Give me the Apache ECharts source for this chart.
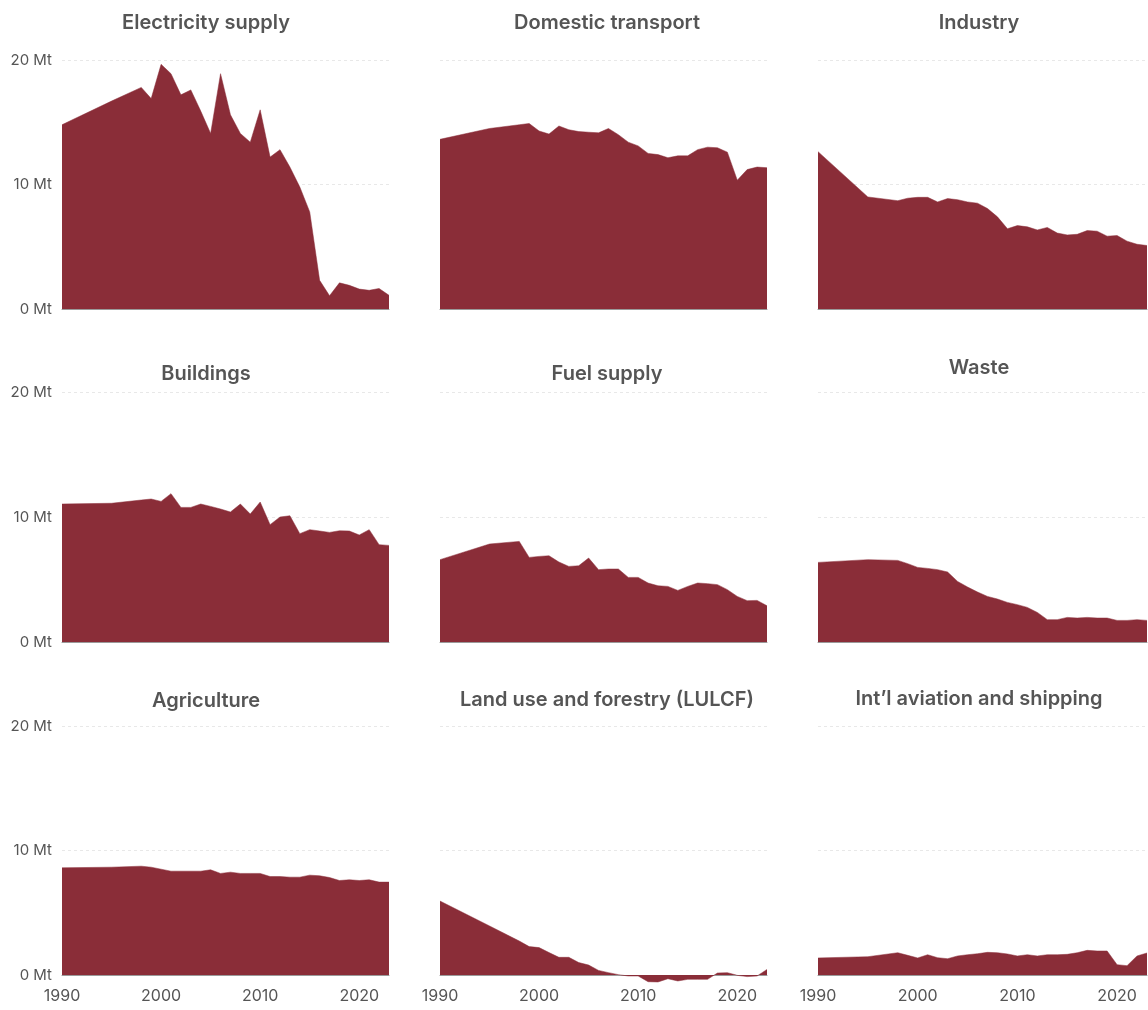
<!DOCTYPE html>
<html>
<head>
<meta charset="utf-8">
<script src="https://cdn.jsdelivr.net/npm/echarts@6/dist/echarts.min.js"></script>
<style>
html,body{margin:0;padding:0;background:#fff;}
#chart{width:1148px;height:1010px;}
</style>
</head>
<body>
<div id="chart"></div>
<script>
const years = [1990,1991,1992,1993,1994,1995,1996,1997,1998,1999,2000,2001,2002,2003,2004,2005,2006,2007,2008,2009,2010,2011,2012,2013,2014,2015,2016,2017,2018,2019,2020,2021,2022,2023];
const N = null;
const sectors = ["Electricity supply","Domestic transport","Industry","Buildings","Fuel supply","Waste","Agriculture","Land use and forestry (LULCF)","Int\u2019l aviation and shipping"];
const electricity = [14.8,N,N,N,N,16.7,N,N,17.8,16.9,19.65,18.9,17.2,17.6,15.9,14.1,18.9,15.6,14.1,13.4,16.0,12.2,12.8,11.4,9.8,7.8,2.3,1.07,2.1,1.9,1.6,1.5,1.65,1.1];
const transport = [13.63,N,N,N,N,14.5,N,N,14.8,14.9,14.3,14.05,14.7,14.4,14.25,14.2,14.15,14.5,14.0,13.4,13.1,12.5,12.4,12.15,12.3,12.3,12.8,13.0,12.95,12.6,10.35,11.2,11.4,11.35];
const industry = [12.64,N,N,N,N,9.0,N,N,8.7,8.9,8.97,8.97,8.6,8.87,8.78,8.6,8.5,8.07,7.4,6.45,6.7,6.6,6.35,6.55,6.1,5.95,6.0,6.3,6.25,5.85,5.9,5.45,5.2,5.1];
const buildings = [11.04,N,N,N,N,11.1,N,N,11.36,11.44,11.25,11.87,10.77,10.77,11.04,10.85,10.64,10.4,11.04,10.24,11.2,9.39,10.0,10.1,8.67,8.99,8.88,8.77,8.9,8.88,8.56,8.99,7.79,7.73];
const fuel = [6.59,N,N,N,N,7.84,N,N,8.05,6.77,6.85,6.9,6.4,6.05,6.1,6.72,5.79,5.84,5.84,5.17,5.17,4.72,4.5,4.45,4.13,4.45,4.72,4.67,4.59,4.19,3.65,3.31,3.33,2.9];
const waste = [6.37,N,N,N,N,6.59,N,N,6.53,6.27,5.97,5.89,5.79,5.6,4.85,4.4,4.0,3.65,3.44,3.17,2.99,2.77,2.37,1.79,1.79,1.97,1.92,1.97,1.92,1.92,1.73,1.73,1.79,1.73];
const agriculture = [8.61,N,N,N,N,8.66,N,N,8.74,8.66,8.5,8.34,8.34,8.34,8.34,8.45,8.16,8.26,8.16,8.16,8.16,7.91,7.91,7.86,7.86,8.02,7.97,7.83,7.59,7.65,7.59,7.65,7.46,7.46];
const lulucf = [5.94,N,N,N,N,3.94,N,N,2.73,2.28,2.2,1.8,1.42,1.42,1.0,0.8,0.37,0.19,0.03,-0.08,-0.08,-0.54,-0.56,-0.3,-0.48,-0.35,-0.35,-0.35,0.16,0.19,-0.03,-0.13,-0.08,0.45];
const aviation = [1.37,N,N,N,N,1.47,N,N,1.79,1.58,1.37,1.63,1.39,1.31,1.53,1.63,1.71,1.82,1.79,1.69,1.53,1.63,1.53,1.63,1.63,1.66,1.79,1.98,1.93,1.93,0.83,0.75,1.53,1.77];
const seriesValues = [electricity,transport,industry,buildings,fuel,waste,agriculture,lulucf,aviation];
const yTicks = [0,10,20];
const xTicks = [1990,2000,2010,2020];

const colLeft = [62, 440, 818];
const colWidth = [327, 327, 329];
const rowTop = [60, 392, 726];
const rowHeight = [249, 250, 249];
const titleX = [206, 607, 979];
const titleY = [[21,21,21],[372,372,366],[699,698,697]];
const fillColor = '#8A2D38';
const textColor = '#555555';
const font = 'Inter, "Noto Sans", sans-serif';

const grids = [], xAxes = [], yAxes = [], series = [], titles = [];
for (let i = 0; i < 9; i++) {
  const r = Math.floor(i / 3), c = i % 3;
  grids.push({left: colLeft[c], top: rowTop[r], width: colWidth[c], height: rowHeight[r], containLabel: false});
  xAxes.push({
    type: 'value', gridIndex: i, min: years[0], max: years[years.length-1], interval: 10,
    axisLine: {show: true, onZero: false, lineStyle: {color: '#9a9a9a', width: 1}},
    axisTick: {show: false},
    splitLine: {show: false},
    axisLabel: {show: r === 2, showMaxLabel: false, margin: 13, color: textColor, fontSize: 16, fontFamily: font,
      formatter: v => xTicks.indexOf(v) >= 0 ? String(v) : ''}
  });
  yAxes.push({
    type: 'value', gridIndex: i, min: yTicks[0], max: yTicks[yTicks.length-1], interval: 10,
    axisLine: {show: false}, axisTick: {show: false},
    splitLine: {show: true, lineStyle: {color: '#e8e8e8', type: [3, 3], width: 1}},
    axisLabel: {show: c === 0, margin: 10, color: textColor, fontSize: 15, fontFamily: font,
      formatter: v => v + ' Mt'}
  });
  const vals = seriesValues[i];
  series.push({
    type: 'line', xAxisIndex: i, yAxisIndex: i, name: sectors[i],
    data: years.map((y, k) => [y, vals[k]]).filter(d => d[1] !== null),
    symbol: 'none', clip: false, silent: true, animation: false,
    lineStyle: {width: 0.5, color: fillColor},
    areaStyle: {color: fillColor, opacity: 1, origin: 0}
  });
  titles.push({
    text: sectors[i], left: titleX[c], top: titleY[r][c] - 8, textAlign: 'center', padding: 0,
    textStyle: {color: textColor, fontSize: 20, fontWeight: 600, fontFamily: font}
  });
}

const chart = echarts.init(document.getElementById('chart'), null, {renderer: 'canvas'});
chart.setOption({
  animation: false,
  backgroundColor: '#ffffff',
  title: titles,
  grid: grids,
  xAxis: xAxes,
  yAxis: yAxes,
  series: series
});
</script>
</body>
</html>
